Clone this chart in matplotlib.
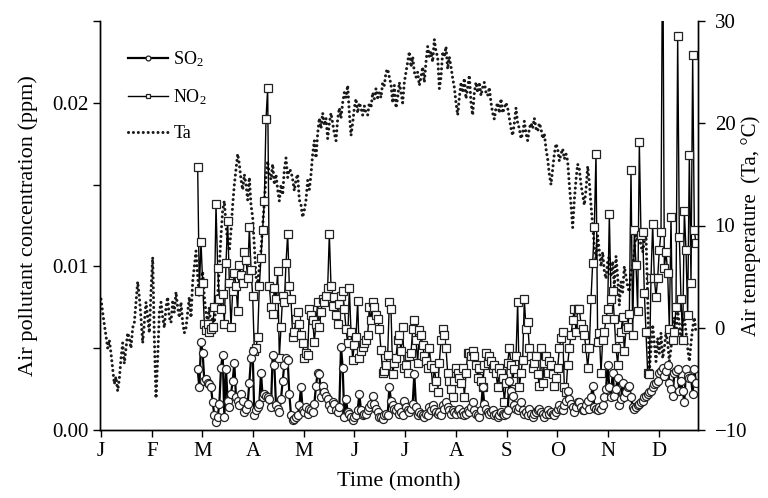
import numpy as np
import matplotlib.pyplot as plt

plt.rcParams['font.family'] = ['Liberation Serif', 'DejaVu Serif']
plt.rcParams['mathtext.fontset'] = 'custom'
plt.rcParams['mathtext.rm'] = 'Liberation Serif'
plt.rcParams['mathtext.default'] = 'regular'

months = ['J', 'F', 'M', 'A', 'M', 'J', 'J', 'A', 'S', 'O', 'N', 'D']

# daily air temperature (deg C), day 0 = 1 Jan
ta = [2.8, 1.5, 0.3, -0.8, -2.0, -1.2, -2.5, -4.0, -5.5, -4.8,
      -6.2, -5.0, -3.0, -1.5, -3.5, -2.0, -0.5, -1.0, -2.0, 0.0,
      0.5, 2.5, 4.5, 3.0, 1.0, -1.5, 0.5, 2.5, 1.0, -0.5,
      3.5, 6.9, -1.0, -6.9, -3.0, 1.5, 2.5, 1.0, 0.0, 2.0,
      3.0, 1.0, 0.5, 2.5, 1.5, 3.5, 2.0, 1.0, 2.5, 0.5,
      -0.5, 0.0, 1.5, 3.0, 1.0, 4.5, 6.0, 7.5, 5.0, 3.0,
      4.5, 5.5, 3.0, 1.5, 0.5, 2.0, -0.2, 1.0, 0.5, 2.0,
      3.0, 6.0, 9.0, 11.5, 12.4, 10.0, 8.5, 7.5, 9.5, 12.0,
      14.0, 15.5, 17.0, 16.0, 14.5, 13.5, 15.0, 14.0, 12.5, 14.7,
      12.0, 10.8, 8.0, 5.0, 4.3, 6.0, 7.6, 10.0, 12.5, 14.7,
      16.3, 15.0, 14.5, 16.0, 14.0, 15.0, 13.5, 12.4, 14.0, 13.0,
      15.5, 16.6, 14.7, 15.5, 15.3, 14.5, 13.4, 14.5, 15.0, 12.5,
      12.0, 10.8, 11.5, 12.5, 14.4, 13.5, 15.0, 17.0, 18.3, 16.6,
      19.0, 20.5, 19.5, 21.0, 19.8, 20.5, 18.5, 20.0, 21.0, 20.0,
      19.0, 18.3, 20.4, 21.5, 20.5, 22.0, 23.0, 22.5, 23.7, 21.0,
      18.8, 20.0, 21.5, 22.4, 21.0, 22.0, 21.5, 20.8, 21.7, 21.0,
      20.8, 22.0, 21.5, 23.0, 22.4, 23.4, 22.5, 23.0, 22.5, 24.0,
      23.7, 25.0, 25.3, 24.5, 23.8, 22.0, 23.7, 21.5, 22.5, 24.0,
      23.0, 22.0, 24.0, 25.0, 26.0, 27.0, 25.5, 26.5, 25.0, 24.5,
      25.0, 23.7, 24.5, 25.5, 24.0, 26.0, 27.5, 26.5, 27.0, 26.0,
      28.2, 27.0, 26.5, 23.4, 24.5, 27.0, 26.5, 27.5, 25.3, 26.5,
      25.5, 24.4, 23.5, 22.0, 20.8, 22.5, 24.0, 23.0, 24.4, 22.4,
      23.5, 24.7, 22.0, 20.8, 23.0, 24.0, 23.0, 24.0, 22.7, 23.5,
      24.0, 23.0, 22.7, 23.5, 22.0, 21.0, 20.4, 21.5, 22.0, 21.0,
      22.4, 21.0, 21.5, 22.0, 21.5, 20.5, 19.5, 18.8, 20.0, 21.5,
      20.0, 19.5, 18.5, 19.0, 20.2, 19.0, 18.3, 19.5, 20.0, 19.5,
      20.5, 19.5, 19.2, 20.0, 19.5, 18.5, 19.0, 17.5, 16.5, 15.0,
      14.0, 15.5, 17.0, 18.0, 17.5, 16.3, 17.0, 17.5, 16.5, 17.0,
      16.3, 14.0, 12.0, 9.8, 12.5, 14.5, 16.0, 15.5, 14.0, 13.0,
      12.0, 13.5, 15.8, 14.2, 12.0, 10.0, 8.0, 6.7, 9.0, 7.5,
      6.0, 7.4, 5.5, 4.8, 6.5, 7.0, 5.0, 6.5, 4.0, 7.0,
      5.0, 2.2, 4.5, 3.5, 6.0, 5.0, 4.0, 3.5, 5.5, 6.0,
      7.5, 9.3, 8.5, 9.0, 8.0, 7.4, 8.5, 9.0, 3.0, -4.3,
      -2.0, 0.3, -1.5, -3.3, -1.0, -2.5, -0.5, -3.0, -2.0, -0.4,
      -1.5, -3.3, -2.0, -0.5, 1.0, -1.0, 1.6, 0.5, -1.6, 0.5,
      1.0, -0.4, -2.0, -3.3, -1.5, 0.0, 1.0, -0.5]

# daily NO2 (ppm), starting at day 58
no2 = [0.0161, 0.0085, 0.0115, 0.0090, 0.0065, 0.0061, 0.0065, 0.0060, 0.0062, 0.0063,
       0.0075, 0.0138, 0.0099, 0.0080, 0.0074, 0.0083, 0.0065, 0.0102, 0.0128, 0.0090,
       0.0063, 0.0085, 0.0096, 0.0088, 0.0073, 0.0101, 0.0095, 0.0090, 0.0109, 0.0104,
       0.0093, 0.0124, 0.0098, 0.0082, 0.0048, 0.0050, 0.0057, 0.0088, 0.0105, 0.0122,
       0.0140, 0.0190, 0.0209, 0.0088, 0.0075, 0.0071, 0.0087, 0.0080, 0.0097, 0.0044,
       0.0063, 0.0082, 0.0078, 0.0102, 0.0120, 0.0088, 0.0080, 0.0057, 0.0060, 0.0068,
       0.0072, 0.0065, 0.0058, 0.0053, 0.0044, 0.0047, 0.0046, 0.0074, 0.0070, 0.0067,
       0.0054, 0.0065, 0.0078, 0.0063, 0.0072, 0.0080, 0.0078, 0.0082, 0.0087, 0.0120,
       0.0088, 0.0076, 0.0081, 0.0070, 0.0065, 0.0077, 0.0082, 0.0085, 0.0074, 0.0062,
       0.0053, 0.0087, 0.0060, 0.0043, 0.0052, 0.0057, 0.0079, 0.0044, 0.0048, 0.0051,
       0.0053, 0.0055, 0.0058, 0.0075, 0.0067, 0.0078, 0.0075, 0.0070, 0.0068, 0.0062,
       0.0049, 0.0035, 0.0036, 0.0040, 0.0046, 0.0078, 0.0074, 0.0034, 0.0041, 0.0044,
       0.0055, 0.0058, 0.0048, 0.0063, 0.0038, 0.0040, 0.0035, 0.0045, 0.0047, 0.0062,
       0.0067, 0.0055, 0.0041, 0.0061, 0.0058, 0.0052, 0.0045, 0.0042, 0.0038, 0.0050,
       0.0040, 0.0026, 0.0038, 0.0030, 0.0023, 0.0041, 0.0055, 0.0062, 0.0058, 0.0050,
       0.0035, 0.0030, 0.0025, 0.0020, 0.0030, 0.0038, 0.0035, 0.0032, 0.0029, 0.0038,
       0.0020, 0.0035, 0.0047, 0.0047, 0.0045, 0.0048, 0.0045, 0.0040, 0.0032, 0.0038,
       0.0030, 0.0026, 0.0040, 0.0047, 0.0041, 0.0045, 0.0042, 0.0038, 0.0040, 0.0035,
       0.0026, 0.0038, 0.0035, 0.0032, 0.0017, 0.0029, 0.0041, 0.0050, 0.0040, 0.0030,
       0.0037, 0.0045, 0.0078, 0.0026, 0.0035, 0.0043, 0.0080, 0.0062, 0.0066, 0.0050,
       0.0045, 0.0038, 0.0041, 0.0045, 0.0034, 0.0027, 0.0050, 0.0029, 0.0041, 0.0045,
       0.0035, 0.0042, 0.0040, 0.0034, 0.0027, 0.0032, 0.0038, 0.0050, 0.0056, 0.0060,
       0.0026, 0.0023, 0.0040, 0.0050, 0.0058, 0.0067, 0.0074, 0.0060, 0.0074, 0.0074,
       0.0065, 0.0062, 0.0058, 0.0050, 0.0038, 0.0050, 0.0080, 0.0102, 0.0124, 0.0169,
       0.0054, 0.0059, 0.0035, 0.0055, 0.0060, 0.0068, 0.0074, 0.0132, 0.0080, 0.0085,
       0.0068, 0.0050, 0.0040, 0.0056, 0.0060, 0.0069, 0.0048, 0.0062, 0.0063, 0.0071,
       0.0159, 0.0058, 0.0122, 0.0101, 0.0073, 0.0176, 0.0119, 0.0121, 0.0084, 0.0060,
       0.0035, 0.0034, 0.0093, 0.0126, 0.0093, 0.0081, 0.0093, 0.0110, 0.0121, 0.0320,
       0.0099, 0.0109, 0.0096, 0.0062, 0.0130, 0.0055, 0.0060, 0.0075, 0.0241, 0.0118,
       0.0080, 0.0055, 0.0134, 0.0110, 0.0070, 0.0168, 0.0090, 0.0229, 0.0122, 0.0114]

# daily SO2 (ppm), starting at day 58
so2 = [0.0037, 0.0026, 0.0054, 0.0047, 0.0030, 0.0031, 0.0029, 0.0028, 0.0026, 0.0017,
       0.0009, 0.0005, 0.0008, 0.0016, 0.0038, 0.0046, 0.0008, 0.0037, 0.0018, 0.0014,
       0.0022, 0.0030, 0.0041, 0.0020, 0.0018, 0.0015, 0.0022, 0.0018, 0.0011, 0.0013,
       0.0016, 0.0029, 0.0044, 0.0048, 0.0009, 0.0012, 0.0014, 0.0016, 0.0035, 0.0020,
       0.0022, 0.0021, 0.0020, 0.0019, 0.0014, 0.0046, 0.0040, 0.0015, 0.0013, 0.0011,
       0.0019, 0.0030, 0.0040, 0.0044, 0.0043, 0.0022, 0.0009, 0.0006, 0.0007, 0.0008,
       0.0009, 0.0015, 0.0026, 0.0012, 0.0011, 0.0014, 0.0010, 0.0013, 0.0012, 0.0011,
       0.0016, 0.0027, 0.0035, 0.0034, 0.0020, 0.0027, 0.0023, 0.0021, 0.0019, 0.0015,
       0.0013, 0.0017, 0.0016, 0.0012, 0.0011, 0.0014, 0.0051, 0.0038, 0.0008, 0.0019,
       0.0011, 0.0010, 0.0008, 0.0006, 0.0008, 0.0009, 0.0012, 0.0022, 0.0012, 0.0009,
       0.0010, 0.0010, 0.0012, 0.0014, 0.0016, 0.0021, 0.0016, 0.0013, 0.0011, 0.0008,
       0.0008, 0.0007, 0.0009, 0.0010, 0.0009, 0.0026, 0.0018, 0.0015, 0.0013, 0.0012,
       0.0014, 0.0010, 0.0011, 0.0009, 0.0018, 0.0014, 0.0012, 0.0011, 0.0013, 0.0016,
       0.0034, 0.0014, 0.0009, 0.0011, 0.0010, 0.0009, 0.0008, 0.0010, 0.0009, 0.0014,
       0.0012, 0.0015, 0.0013, 0.0011, 0.0010, 0.0011, 0.0009, 0.0015, 0.0013, 0.0017,
       0.0014, 0.0012, 0.0010, 0.0012, 0.0011, 0.0010, 0.0012, 0.0013, 0.0010, 0.0011,
       0.0009, 0.0010, 0.0012, 0.0011, 0.0014, 0.0017, 0.0012, 0.0010, 0.0009, 0.0008,
       0.0012, 0.0026, 0.0016, 0.0013, 0.0011, 0.0010, 0.0011, 0.0012, 0.0009, 0.0010,
       0.0008, 0.0009, 0.0011, 0.0010, 0.0009, 0.0010, 0.0012, 0.0030, 0.0024, 0.0021,
       0.0015, 0.0013, 0.0012, 0.0014, 0.0017, 0.0012, 0.0010, 0.0011, 0.0009, 0.0013,
       0.0010, 0.0008, 0.0010, 0.0011, 0.0012, 0.0013, 0.0011, 0.0010, 0.0008, 0.0010,
       0.0012, 0.0010, 0.0011, 0.0010, 0.0009, 0.0011, 0.0013, 0.0015, 0.0013, 0.0012,
       0.0015, 0.0018, 0.0024, 0.0019, 0.0016, 0.0014, 0.0011, 0.0014, 0.0017, 0.0017,
       0.0014, 0.0012, 0.0012, 0.0015, 0.0018, 0.0013, 0.0020, 0.0027, 0.0014, 0.0013,
       0.0012, 0.0014, 0.0013, 0.0015, 0.0020, 0.0025, 0.0040, 0.0026, 0.0020, 0.0035,
       0.0021, 0.0025, 0.0032, 0.0015, 0.0019, 0.0029, 0.0020, 0.0023, 0.0026, 0.0027,
       0.0020, 0.0014, 0.0013, 0.0014, 0.0015, 0.0016, 0.0017, 0.0018, 0.0020, 0.0021,
       0.0022, 0.0023, 0.0024, 0.0026, 0.0028, 0.0029, 0.0030, 0.0035, 0.0036, 0.0038,
       0.0033, 0.0036, 0.0040, 0.0029, 0.0025, 0.0021, 0.0035, 0.0036, 0.0037, 0.0024,
       0.0030, 0.0024, 0.0017, 0.0037, 0.0033, 0.0032, 0.0032, 0.0022, 0.0037, 0.0029]

first_day = 58
ta_days = np.arange(len(ta))
pol_days = np.arange(first_day, first_day + len(no2))

fig = plt.figure(figsize=(7.68, 4.98), dpi=100)
ax = fig.add_axes([100 / 768, 1 - 430 / 498, 598 / 768, 409 / 498])
ax2 = ax.twinx()

# temperature behind the pollutant lines
ax.set_zorder(ax2.get_zorder() + 1)
ax.patch.set_visible(False)

l3, = ax2.plot(ta_days, ta, color='#1a1a1a', lw=2.2, linestyle=(0, (0.01, 1.6)),
               dash_capstyle='round')
l2, = ax.plot(pol_days, no2, color='black', lw=1.0, marker='s', ms=5.8,
              mfc='white', mec='#222222', mew=0.9)
l1, = ax.plot(pol_days, so2, color='black', lw=1.6, marker='o', ms=5.8,
              mfc='white', mec='#222222', mew=0.9)

ax.set_xlim(-0.6, 358.2)
ax.set_ylim(0, 0.025)
ax2.set_ylim(-10, 30)

ax.set_xticks(np.arange(12) * 365 / 12)
ax.set_xticklabels(months)
ax.set_yticks(np.arange(0, 0.0251, 0.005))
ax.set_yticklabels(['0.00', '', '0.01', '', '0.02', ''])
ax2.set_yticks([-10, 0, 10, 20, 30])

for a in (ax, ax2):
    a.spines['top'].set_visible(False)
    a.tick_params(labelsize=15, length=5, width=1, direction='out')
    for s in a.spines.values():
        s.set_linewidth(1)
ax.tick_params(axis='x', pad=4)
ax2.tick_params(axis='y', pad=7)

ax.set_xlabel('Time (month)', fontsize=16, labelpad=8)
ax.set_ylabel('Air pollutant concentration (ppm)', fontsize=16, labelpad=10)
ax2.set_ylabel('Air temeperature  (Ta, °C)', fontsize=15)
ax2.yaxis.set_label_coords(1.072, 0.5)

ax.legend([l1, l2, l3], ['SO$_2$', 'NO$_2$', 'Ta'], loc='upper left',
          bbox_to_anchor=(0.02, 0.97), frameon=False, fontsize=13,
          handlelength=2.2, labelspacing=1.0, markerscale=0.6, handletextpad=0.3)

fig.savefig('out.png', dpi=100)
